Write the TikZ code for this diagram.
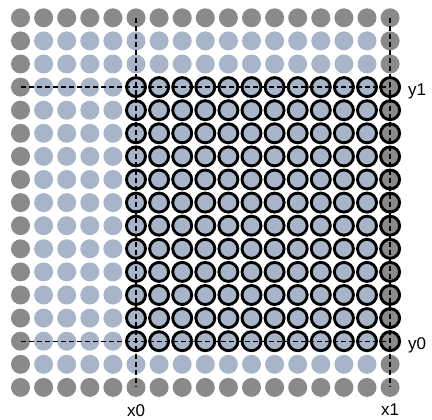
\documentclass[tikz,border=0pt]{standalone}
\usepackage{fontspec}
\setmainfont{Liberation Sans}
\usepackage{tikz}
\usetikzlibrary{positioning}

\definecolor{rimgray}{RGB}{138,138,138}
\definecolor{cellblue}{RGB}{168,181,201}

\begin{document}
\begin{tikzpicture}[x=1pt, y=-1pt,
    dot/.style={circle, inner sep=0pt, minimum size=19pt},
    ring/.style={circle, draw=black, line width=2.9pt, inner sep=0pt, minimum size=19pt},
    guide/.style={draw=black, line width=1.3pt, dash pattern=on 5pt off 3pt},
    lbl/.style={inner sep=0pt, font=\fontsize{17}{20}\selectfont}
]
\useasboundingbox (0,0) rectangle (432,420);

% all points, outer frame darker
\foreach \i in {0,...,16}
  \foreach \j in {0,...,16} {
    \pgfmathtruncatemacro\isrim{(\i==0)||(\i==16)||(\j==0)||(\j==16)}
    \ifnum\isrim=1 \def\fc{rimgray}\else\def\fc{cellblue}\fi
    \node[dot, fill=\fc] (d-\i-\j) at (20.5+23.1*\i, 17.8+23.1*\j) {};
  }

% selected window
\foreach \i in {5,...,16}
  \foreach \j in {3,...,14}
    \node[ring] (r-\i-\j) at (d-\i-\j) {};

% bounds
\draw[guide] (d-5-0.center) -- (d-5-16.center);
\draw[guide] (d-16-0.center) -- (d-16-16.center);
\draw[guide] (d-0-3.center) -- (d-16-3.center);
\draw[guide] (d-0-14.center) -- (d-16-14.center);

\node[lbl, right=8pt of d-16-3, yshift=-4pt] (ly1) {y1};
\node[lbl, right=8pt of d-16-14, yshift=-4pt] (ly0) {y0};
\node[lbl, below=7pt of d-5-16] (lx0) {x0};
\node[lbl, below=7pt of d-16-16] (lx1) {x1};
\end{tikzpicture}
\end{document}
